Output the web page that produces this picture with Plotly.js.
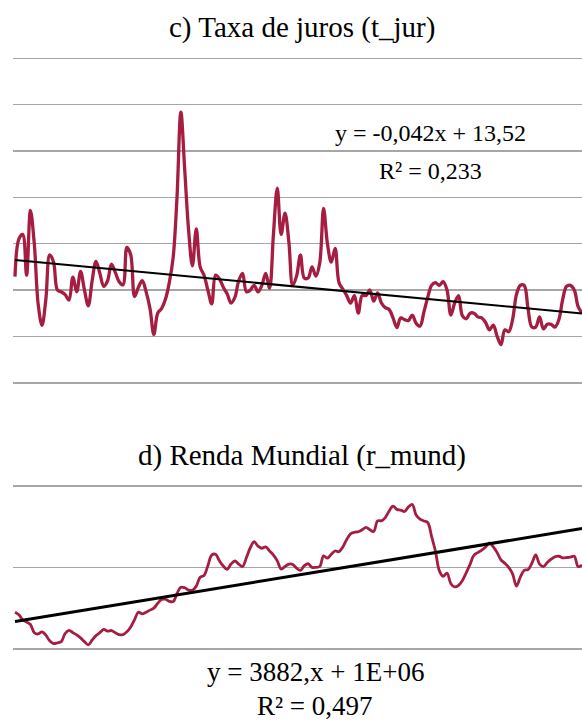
<!DOCTYPE html>
<html>
<head>
<meta charset="utf-8">
<script src="https://cdn.plot.ly/plotly-3.0.1.min.js"></script>
<style>html,body{margin:0;padding:0;background:#fff;}#chart{width:582px;height:724px;}</style>
</head>
<body>
<div id="chart"></div>
<script>
// ---- Data ----
const titleTop = "c) Taxa de juros (t_jur)";
const titleBottom = "d) Renda Mundial (r_mund)";
const eqTop = "y = -0,042x + 13,52";
const r2Top = "R² = 0,233";
const eqBottom = "y = 3882,x + 1E+06";
const r2Bottom = "R² = 0,497";

// Taxa de juros (% ), one value per period
const tJur = [
  11.45, 15.5, 16.0, 11.6, 18.6, 15.0, 8.5, 6.2, 9.0, 13.8,
  13.0, 10.0, 9.8, 9.5, 8.9, 11.4, 9.8, 12.0, 10.0, 8.3,
  11.0, 13.1, 11.8, 10.4, 11.0, 12.8, 11.9, 10.9, 10.55, 14.6,
  13.8, 9.3, 10.3, 11.0, 9.8, 8.0, 5.2, 7.5, 8.0, 9.0,
  10.8, 13.5, 20.0, 29.2, 23.0, 16.5, 12.6, 16.6, 12.5, 11.6,
  10.0, 8.5, 11.6, 11.2, 10.3, 9.6, 8.6, 9.2, 11.0, 11.8,
  9.8, 10.0, 10.5, 9.8, 10.5, 11.8, 10.2, 16.0, 21.0, 16.0,
  18.3, 15.2, 10.5, 11.5, 13.8, 11.3, 11.3, 12.5, 11.5, 12.9,
  18.8, 15.0, 13.0, 14.5, 10.8, 10.1, 9.4, 8.6, 9.4, 7.5,
  9.4, 9.4, 10.0, 8.8, 9.7, 8.6, 8.1, 7.9, 7.0, 5.95,
  7.0, 6.8, 6.7, 7.3, 6.4, 6.1, 7.6, 9.2, 10.5, 10.8,
  10.5, 10.9, 10.0, 7.3, 8.6, 9.4, 7.2, 6.9, 7.5, 7.5,
  7.1, 7.0, 6.5, 5.7, 6.2, 5.0, 4.1, 5.7, 5.5, 6.8,
  9.5, 10.5, 10.5, 8.0, 6.0, 6.0, 7.1, 5.8, 6.3, 6.3,
  6.0, 6.8, 9.0, 10.4, 10.5, 10.0, 8.2, 7.5
];

// Renda mundial (thousands), one value per period
const rMundK = [
  1225, 1210, 1178, 1165, 1150, 1100, 1092, 1105, 1085, 1050,
  1033, 1038, 1045, 1095, 1114, 1100, 1086, 1068, 1045, 1025,
  1055, 1082, 1100, 1120, 1110, 1113, 1100, 1088, 1088, 1105,
  1135, 1180, 1225, 1215, 1225, 1238, 1250, 1280, 1303, 1305,
  1292, 1290, 1340, 1378, 1375, 1361, 1360, 1385, 1440, 1450,
  1510, 1575, 1580, 1540, 1508, 1488, 1520, 1539, 1520, 1505,
  1560, 1620, 1657, 1630, 1617, 1625, 1600, 1575, 1540, 1490,
  1505, 1520, 1518, 1495, 1482, 1510, 1522, 1500, 1500, 1505,
  1570, 1556, 1580, 1600, 1596, 1625, 1670, 1705, 1715, 1718,
  1730, 1745, 1730, 1720, 1785, 1785, 1805, 1845, 1875, 1855,
  1850, 1842, 1870, 1885, 1820, 1795, 1784, 1775, 1690, 1600,
  1480, 1445, 1465, 1400, 1380, 1390, 1420, 1468, 1520, 1575,
  1590, 1605, 1625, 1650, 1625, 1590, 1545, 1525, 1500, 1460,
  1385, 1440, 1482, 1486, 1525, 1576, 1520, 1505, 1530, 1550,
  1565, 1568, 1558, 1560, 1563, 1568, 1505, 1514
];
const rMund = rMundK.map(v => v * 1000);

// Axis ranges / gridline steps
const topRange = [0, 35], topStep = 5;
const botRange = [1000000, 2000000], botStep = 500000;

// ---- Helpers ----
const idx = arr => arr.map((_, i) => i + 1);
function linFit(x, y) {
  const n = x.length;
  const mx = x.reduce((a, b) => a + b, 0) / n;
  const my = y.reduce((a, b) => a + b, 0) / n;
  let sxy = 0, sxx = 0;
  for (let i = 0; i < n; i++) { sxy += (x[i] - mx) * (y[i] - my); sxx += (x[i] - mx) ** 2; }
  const b = sxy / sxx, a = my - b * mx;
  return [a + b * x[0], a + b * x[n - 1]];
}

const xTop = idx(tJur), xBot = idx(rMund);
const fitTop = linFit(xTop, tJur), fitBot = linFit(xBot, rMund);

const RED = "#a51d40";
const GRID = "#a6a6a6";
const serif = '"Liberation Serif", "Times New Roman", serif';
const W = 582, H = 724;

const traces = [
  { x: xTop, y: tJur, type: "scatter", mode: "lines", line: { color: RED, width: 3.3, shape: "spline", smoothing: 1 }, xaxis: "x", yaxis: "y", hoverinfo: "skip" },
  { x: [xTop[0], xTop[xTop.length - 1]], y: fitTop, type: "scatter", mode: "lines", line: { color: "#000", width: 2 }, xaxis: "x", yaxis: "y", hoverinfo: "skip" },
  { x: xBot, y: rMund, type: "scatter", mode: "lines", line: { color: RED, width: 2.8, shape: "spline", smoothing: 1 }, xaxis: "x2", yaxis: "y2", hoverinfo: "skip" },
  { x: [xBot[0], xBot[xBot.length - 1]], y: fitBot, type: "scatter", mode: "lines", line: { color: "#000", width: 3 }, xaxis: "x2", yaxis: "y2", hoverinfo: "skip" }
];

const N = tJur.length;
const step = (582 - 15) / (N - 1);
const xr = [1 - (15 - 13) / step, N];

// pad ranges by ~1.5px so the edge gridlines are drawn
function padded(range, pxTop, pxBot) {
  const perPx = (range[1] - range[0]) / (pxBot - pxTop);
  const p = 1.5;
  return { range: [range[0] - p * perPx, range[1] + p * perPx], domain: [1 - (pxBot + p) / H, 1 - (pxTop - p) / H] };
}
const pt = padded(topRange, 58.3, 382.7);
const pb = padded(botRange, 485.7, 649);

const xaxisBase = { domain: [13 / W, 1], range: xr, showgrid: false, zeroline: false, showticklabels: false, ticks: "", showline: false, fixedrange: true };
const yBase = { showgrid: true, gridcolor: GRID, gridwidth: 1.6, zeroline: false, showticklabels: false, ticks: "", showline: false, fixedrange: true };
const ann = (text, px, py, size) => ({ text, x: px / W, y: 1 - py / H, xref: "paper", yref: "paper", showarrow: false, xanchor: "center", yanchor: "middle", font: { family: serif, size, color: "#000" } });

const layout = {
  width: W, height: H,
  margin: { l: 0, r: 0, t: 0, b: 0 },
  paper_bgcolor: "#fff", plot_bgcolor: "#fff",
  showlegend: false,
  xaxis: Object.assign({}, xaxisBase, { anchor: "y" }),
  yaxis: Object.assign({}, yBase, { domain: pt.domain, range: pt.range, dtick: topStep, tick0: topRange[0] }),
  xaxis2: Object.assign({}, xaxisBase, { anchor: "y2" }),
  yaxis2: Object.assign({}, yBase, { domain: pb.domain, range: pb.range, dtick: botStep, tick0: botRange[0] }),
  annotations: [
    ann(titleTop, 302, 27, 29),
    ann(eqTop, 430, 133, 24),
    ann(r2Top, 430, 171, 24),
    ann(titleBottom, 302, 455, 29),
    ann(eqBottom, 315, 672, 27),
    ann(r2Bottom, 315, 706, 27)
  ]
};

Plotly.newPlot("chart", traces, layout, { staticPlot: true, displayModeBar: false });
</script>
</body>
</html>
